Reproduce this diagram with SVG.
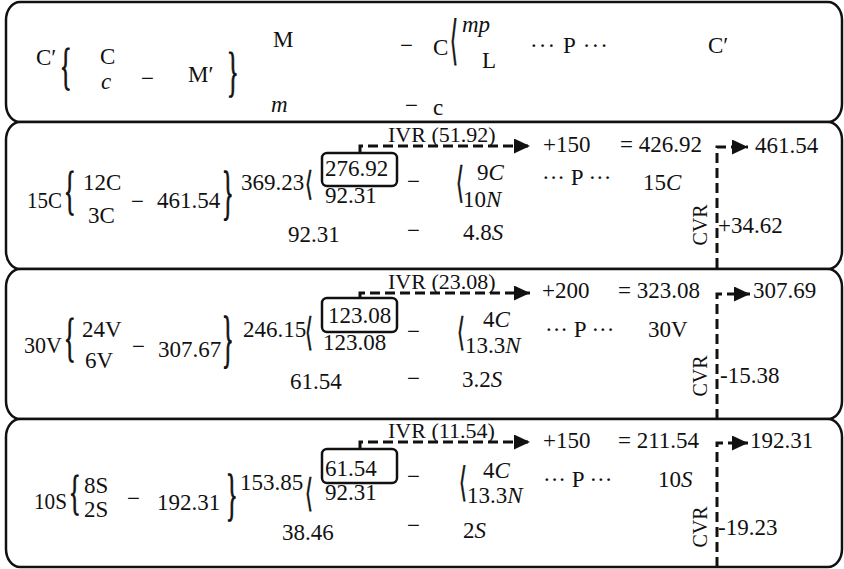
<svg xmlns="http://www.w3.org/2000/svg" width="844" height="569" viewBox="0 0 844 569">
<style>
.t{font-family:"Liberation Serif","DejaVu Serif",serif;font-size:23px;fill:#111}
.i{font-style:italic}
.s{font-size:22px}
.c{font-size:20px}
.br{font-family:"Liberation Serif","DejaVu Serif",serif;font-size:24px;fill:#111;stroke:#111;stroke-width:0.5}
.ab{font-family:"DejaVu Sans",sans-serif;font-size:20px;fill:#111;stroke:#111;stroke-width:0.4}
.panel{fill:#fff;stroke:#111;stroke-width:2.5}
.box{fill:none;stroke:#111;stroke-width:2.5}
.dash{fill:none;stroke:#111;stroke-width:3;stroke-dasharray:10 5}
</style>
<defs>
<marker id="ah" markerUnits="userSpaceOnUse" markerWidth="17" markerHeight="15" refX="16" refY="7.5" orient="auto">
<path d="M0,0 L16,7.5 L0,15 z" fill="#111"/>
</marker>
</defs>
<rect width="844" height="569" fill="#fff"/>

<g id="panel-general">
<rect class="panel" x="6" y="2" width="836" height="120" rx="14" ry="18"/>
<text class="t" x="36" y="65">C′</text>
<text class="br" transform="translate(60,83) scale(1,2.13)">{</text>
<text class="t" x="100" y="64">C</text>
<text class="t i" x="101" y="89">c</text>
<text class="t" x="141" y="86">−</text>
<text class="t" x="188" y="82">M′</text>
<text class="br" transform="translate(227,90) scale(1,2.28)">}</text>
<text class="t" x="273" y="47">M</text>
<text class="t i" x="271" y="112">m</text>
<text class="t" x="400" y="53">−</text>
<text class="t" x="433" y="55">C</text>
<text class="t" x="405" y="113">−</text>
<text class="t" x="433" y="115">c</text>
<text class="ab" transform="translate(450,58) scale(1,2.6)">⟨</text>
<text class="t i" x="462" y="32">mp</text>
<text class="t" x="482" y="68">L</text>
<text class="t" x="530" y="53" textLength="78">··· P ···</text>
<text class="t" x="708" y="53">C′</text>
</g>

<g id="panel-C">
<rect class="panel" x="6" y="122" width="836" height="147" rx="14" ry="18"/>
<text class="t" x="27" y="208" textLength="35" lengthAdjust="spacingAndGlyphs">15C</text>
<text class="br" transform="translate(64,208) scale(1,2.18)">{</text>
<text class="t" x="83" y="190">12C</text>
<text class="t" x="88" y="223">3C</text>
<text class="t" x="131" y="209">−</text>
<text class="t" x="157" y="208">461.54</text>
<text class="br" transform="translate(222,212) scale(1,2.5)">}</text>
<text class="t" x="241" y="190">369.23</text>
<text class="ab" transform="translate(305,195) scale(1,1.65)">⟨</text>
<rect class="box" x="322" y="153" width="75" height="33" rx="5"/>
<text class="t" x="325" y="176">276.92</text>
<text class="t" x="325" y="203">92.31</text>
<text class="t" x="288" y="242">92.31</text>
<text class="t" x="407" y="189">−</text>
<text class="t" x="407" y="238">−</text>
<text class="t s" x="388" y="142">IVR (51.92)</text>
<text class="ab" transform="translate(456,197) scale(1,2.1)">⟨</text>
<text class="t" x="477" y="180">9<tspan class="i">C</tspan></text>
<text class="t" x="463" y="207">10<tspan class="i">N</tspan></text>
<text class="t" x="463" y="240">4.8<tspan class="i">S</tspan></text>
<text class="t" x="542" y="185">··· P ···</text>
<text class="t" x="643" y="190">15<tspan class="i">C</tspan></text>
<text class="t" x="543" y="152">+150</text>
<text class="t" x="620" y="152">= 426.92</text>
<text class="t" x="755" y="153">461.54</text>
<text class="t c" transform="translate(700,225) rotate(-90)" text-anchor="middle" y="7">CVR</text>
<text class="t" x="718" y="233">+34.62</text>
</g>

<g id="panel-V">
<rect class="panel" x="6" y="269" width="836" height="150" rx="14" ry="18"/>
<text class="t" x="24" y="353" textLength="38" lengthAdjust="spacingAndGlyphs">30V</text>
<text class="br" transform="translate(64,355) scale(1,2.18)">{</text>
<text class="t" x="82" y="337">24V</text>
<text class="t" x="85" y="368">6V</text>
<text class="t" x="132" y="354">−</text>
<text class="t" x="158" y="357">307.67</text>
<text class="br" transform="translate(222,360) scale(1,2.6)">}</text>
<text class="t" x="243" y="337">246.15</text>
<text class="ab" transform="translate(305,345) scale(1,1.9)">⟨</text>
<rect class="box" x="322" y="298" width="75" height="34" rx="5"/>
<text class="t" x="328" y="323">123.08</text>
<text class="t" x="323" y="350">123.08</text>
<text class="t" x="290" y="389">61.54</text>
<text class="t" x="407" y="339">−</text>
<text class="t" x="407" y="386">−</text>
<text class="t s" x="388" y="289">IVR (23.08)</text>
<text class="ab" transform="translate(457,345) scale(1,1.9)">⟨</text>
<text class="t" x="483" y="327">4<tspan class="i">C</tspan></text>
<text class="t" x="465" y="353">13.3<tspan class="i">N</tspan></text>
<text class="t" x="462" y="387">3.2<tspan class="i">S</tspan></text>
<text class="t" x="545" y="337">··· P ···</text>
<text class="t" x="648" y="337">30V</text>
<text class="t" x="542" y="298">+200</text>
<text class="t" x="618" y="298">= 323.08</text>
<text class="t" x="753" y="298">307.69</text>
<text class="t c" transform="translate(700,376) rotate(-90)" text-anchor="middle" y="7">CVR</text>
<text class="t" x="720" y="383">-15.38</text>
</g>

<g id="panel-S">
<rect class="panel" x="6" y="419" width="836" height="148" rx="14" ry="18"/>
<text class="t" x="34" y="509" textLength="33" lengthAdjust="spacingAndGlyphs">10S</text>
<text class="br" transform="translate(69,509) scale(1,2.05)">{</text>
<text class="t" x="84" y="493">8S</text>
<text class="t" x="84" y="517">2S</text>
<text class="t" x="127" y="506">−</text>
<text class="t" x="157" y="510">192.31</text>
<text class="br" transform="translate(226,514) scale(1,2.35)">}</text>
<text class="t" x="240" y="490">153.85</text>
<text class="ab" transform="translate(305,506) scale(1,1.9)">⟨</text>
<rect class="box" x="322" y="449" width="75" height="34" rx="5"/>
<text class="t" x="325" y="476">61.54</text>
<text class="t" x="325" y="500">92.31</text>
<text class="t" x="282" y="540">38.46</text>
<text class="t" x="407" y="484">−</text>
<text class="t" x="407" y="533">−</text>
<text class="t s" x="388" y="438">IVR (11.54)</text>
<text class="ab" transform="translate(459,496) scale(1,2)">⟨</text>
<text class="t" x="483" y="478">4<tspan class="i">C</tspan></text>
<text class="t" x="467" y="503">13.3<tspan class="i">N</tspan></text>
<text class="t" x="463" y="538">2<tspan class="i">S</tspan></text>
<text class="t" x="543" y="487">··· P ···</text>
<text class="t" x="658" y="487">10<tspan class="i">S</tspan></text>
<text class="t" x="543" y="448">+150</text>
<text class="t" x="618" y="448">= 211.54</text>
<text class="t" x="750" y="448">192.31</text>
<text class="t c" transform="translate(700,527) rotate(-90)" text-anchor="middle" y="7">CVR</text>
<text class="t" x="718" y="535">-19.23</text>
</g>

<g id="connectors">
<path class="dash" d="M360,153 V146 H530" marker-end="url(#ah)"/>
<path class="dash" d="M717,268 V147 H748" marker-end="url(#ah)"/>
<path class="dash" d="M360,298 V293 H530" marker-end="url(#ah)"/>
<path class="dash" d="M717,419 V294 H750" marker-end="url(#ah)"/>
<path class="dash" d="M360,449 V442 H530" marker-end="url(#ah)"/>
<path class="dash" d="M717,567 V443 H748" marker-end="url(#ah)"/>
</g>
</svg>
